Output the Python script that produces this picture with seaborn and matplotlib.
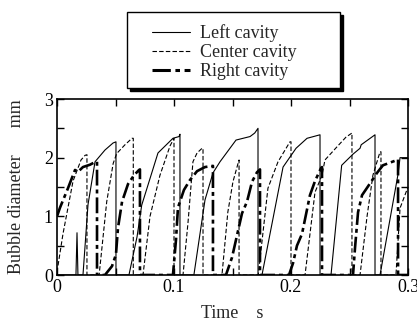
import matplotlib
matplotlib.use("Agg")
import matplotlib.pyplot as plt
from matplotlib.lines import Line2D
from matplotlib.patches import Rectangle
from matplotlib.ticker import MultipleLocator, FixedLocator, FixedFormatter
import pandas as pd
import seaborn as sns

# ---- data: bubble diameter (mm) vs time (s) for three cavities ----
left_t = [0, 0.0162, 0.0171, 0.0179, 0.0222, 0.0265, 0.0325, 0.0410, 0.0479, 0.0504, 0.0504,
          0.0615, 0.0684, 0.0724, 0.0863, 0.0991, 0.1043, 0.1051, 0.1051,
          0.1170, 0.1265, 0.1333, 0.1393, 0.1530, 0.1650, 0.1690, 0.1718, 0.1718,
          0.1752, 0.1932, 0.2043, 0.2137, 0.2248, 0.2248,
          0.2342, 0.2433, 0.2530, 0.2590, 0.2600, 0.2718, 0.2718,
          0.2761, 0.2915, 0.2932, 0.3000]
left_d = [0, 0, 0.72, 0, 0, 1.20, 1.93, 2.13, 2.25, 2.27, 0,
          0, 0.65, 1.19, 2.08, 2.33, 2.36, 2.40, 0,
          0, 1.28, 1.74, 1.93, 2.30, 2.36, 2.42, 2.50, 0,
          0, 1.84, 2.16, 2.33, 2.39, 0,
          0, 1.87, 2.06, 2.16, 2.22, 2.39, 0,
          0, 1.72, 2.00, 2.00]

center_t = [0, 0.0051, 0.0137, 0.0205, 0.0240, 0.0256, 0.0256,
            0.0360, 0.0425, 0.0480, 0.0510, 0.0581, 0.0641, 0.0652, 0.0652,
            0.0735, 0.0795, 0.0880, 0.0966, 0.1000, 0.1000,
            0.1077, 0.1120, 0.1162, 0.1197, 0.1240, 0.1248, 0.1248,
            0.1410, 0.1460, 0.1504, 0.1547, 0.1556, 0.1556,
            0.1720, 0.1803, 0.1889, 0.1991, 0.2000, 0.2000,
            0.2120, 0.2205, 0.2265, 0.2290, 0.2400, 0.2470, 0.2521, 0.2521,
            0.2590, 0.2650, 0.2700, 0.2761, 0.2769, 0.2769,
            0.2897, 0.2932, 0.3000]
center_d = [0.05, 0.70, 1.60, 1.96, 2.04, 2.05, 0,
            0, 1.25, 1.90, 2.07, 2.22, 2.33, 2.33, 0,
            0, 1.00, 1.70, 2.20, 2.33, 0,
            0, 0.90, 1.93, 2.08, 2.16, 2.16, 0,
            0, 1.07, 1.59, 1.90, 1.96, 0,
            0, 1.48, 1.93, 2.27, 2.27, 0,
            0, 1.41, 1.70, 1.96, 2.20, 2.35, 2.42, 0,
            0, 1.00, 1.70, 2.10, 2.10, 0,
            0, 1.14, 1.50]

right_t = [0, 0.0026, 0.0094, 0.0154, 0.0180, 0.0222, 0.0282, 0.0330, 0.0342, 0.0342,
           0.0410, 0.0470, 0.0504, 0.0521, 0.0556, 0.0607, 0.0658, 0.0701, 0.0709, 0.0709,
           0.0991, 0.1017, 0.1034, 0.1085, 0.1137, 0.1197, 0.1265, 0.1333, 0.1333,
           0.1444, 0.1496, 0.1530, 0.1581, 0.1624, 0.1667, 0.1709, 0.1735, 0.1735,
           0.1983, 0.2017, 0.2051, 0.2094, 0.2162, 0.2205, 0.2256, 0.2265, 0.2265,
           0.2530, 0.2547, 0.2573, 0.2607, 0.2675, 0.2735, 0.2786, 0.2906, 0.2915, 0.2915,
           0.3000]
right_d = [1.00, 1.15, 1.48, 1.79, 1.76, 1.84, 1.88, 1.93, 1.93, 0,
           0, 0.15, 0.35, 0.80, 1.25, 1.55, 1.70, 1.79, 1.80, 0,
           0, 0.60, 1.15, 1.45, 1.62, 1.77, 1.84, 1.86, 0,
           0, 0.30, 0.60, 1.05, 1.25, 1.59, 1.75, 1.80, 0,
           0, 0.20, 0.50, 0.70, 1.36, 1.60, 1.82, 1.84, 0,
           0, 0.46, 1.07, 1.36, 1.56, 1.74, 1.87, 1.96, 1.97, 0,
           0]

series_names = ["Left cavity", "Center cavity", "Right cavity"]
x_ticks = [0, 0.1, 0.2, 0.3]
x_tick_labels = ["0", "0.1", "0.2", "0.3"]
y_ticks = [0, 1, 2, 3]
y_tick_labels = ["0", "1", "2", "3"]

# ---- style ----
sns.set_style("ticks")
plt.rcParams["font.family"] = ["Liberation Serif", "DejaVu Serif"]
plt.rcParams["font.size"] = 13

styles = {
    "Left cavity": dict(linestyle="-", lw=0.8),
    "Center cavity": dict(linestyle=(0, (4, 2)), lw=0.8),
    "Right cavity": dict(linestyle=(0, (6, 1.5, 1.5, 1.5)), lw=1.9),
}

fig = plt.figure(figsize=(4.17, 3.22), dpi=100)
ax = fig.add_axes([57 / 417, 1 - 275 / 322, 351 / 417, 176 / 322])

for name, t, d in zip(series_names, [left_t, center_t, right_t], [left_d, center_d, right_d]):
    df = pd.DataFrame({"t": t, "d": d})
    sns.lineplot(data=df, x="t", y="d", estimator=None, sort=False, ax=ax,
                 color="black", **styles[name])

ax.set_xlim(0, 0.3)
ax.set_ylim(0, 3)
ax.xaxis.set_major_locator(FixedLocator(x_ticks))
ax.xaxis.set_major_formatter(FixedFormatter(x_tick_labels))
ax.xaxis.set_minor_locator(MultipleLocator(0.05))
ax.yaxis.set_major_locator(FixedLocator(y_ticks))
ax.yaxis.set_major_formatter(FixedFormatter(y_tick_labels))
ax.yaxis.set_minor_locator(MultipleLocator(0.5))
ax.tick_params(which="both", direction="in", top=True, right=True,
               length=5, width=1, colors="black", labelsize=13, pad=3)
for sp in ax.spines.values():
    sp.set_linewidth(1.2)
    sp.set_color("black")

ax.set_xlabel("Time    s", fontsize=13)
ax.set_ylabel("Bubble diameter      mm", fontsize=13)
ax.xaxis.set_label_coords(0.5, -0.17)
ax.yaxis.set_label_coords(-0.091, 0.5)

# ---- legend box with drop shadow, above the axes ----
bx, by, bw, bh = 127 / 417, 1 - 88 / 322, 213 / 417, 76 / 322
fig.patches.append(Rectangle((bx + 3 / 417, by - 3 / 322), bw, bh, transform=fig.transFigure,
                             facecolor="black", edgecolor="black", zorder=1))
fig.patches.append(Rectangle((bx, by), bw, bh, transform=fig.transFigure,
                             facecolor="white", edgecolor="black", lw=1.0, zorder=2))
handles = [Line2D([], [], color="black", **styles[n]) for n in series_names]
handles[2].set_linewidth(2.2)
leg = fig.legend(handles, series_names, loc="upper left",
                 bbox_to_anchor=(152 / 417, 1 - 24 / 322), frameon=False,
                 fontsize=13, handlelength=2.1, handletextpad=0.55,
                 labelspacing=0.12, borderpad=0, borderaxespad=0)
leg.set_zorder(3)

fig.savefig("out.png", dpi=100)
